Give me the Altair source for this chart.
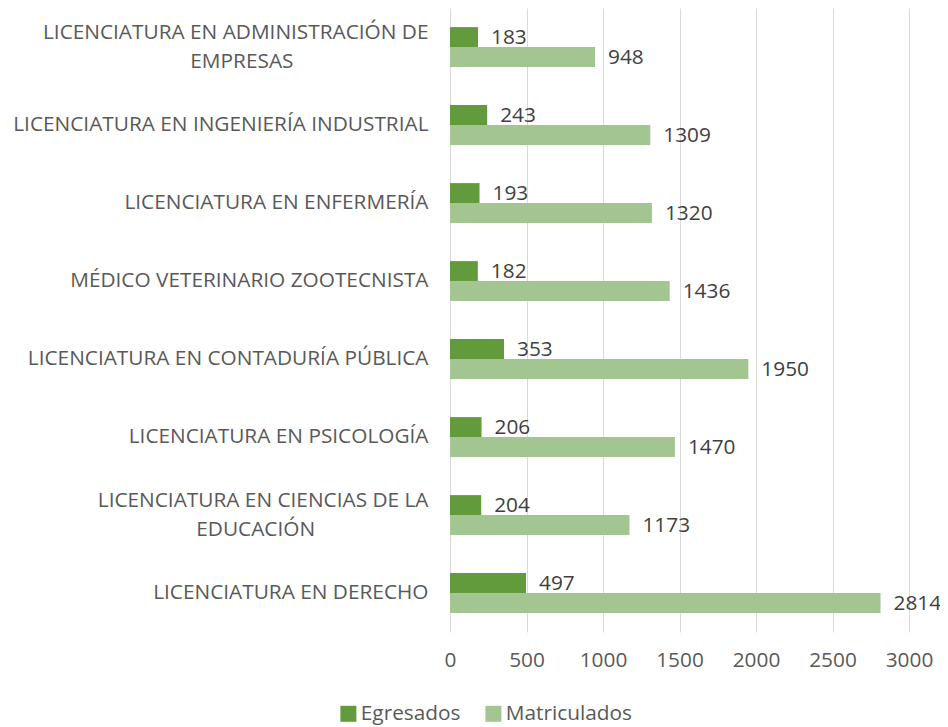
import altair as alt
import pandas as pd

categories = [
    "LICENCIATURA EN ADMINISTRACIÓN DE|EMPRESAS",
    "LICENCIATURA EN INGENIERÍA INDUSTRIAL",
    "LICENCIATURA EN ENFERMERÍA",
    "MÉDICO VETERINARIO ZOOTECNISTA",
    "LICENCIATURA EN CONTADURÍA PÚBLICA",
    "LICENCIATURA EN PSICOLOGÍA",
    "LICENCIATURA EN CIENCIAS DE LA|EDUCACIÓN",
    "LICENCIATURA EN DERECHO",
]
egresados = [183, 243, 193, 182, 353, 206, 204, 497]
matriculados = [948, 1309, 1320, 1436, 1950, 1470, 1173, 2814]
series = ["Egresados", "Matriculados"]
colors = ["#629B3C", "#A2C592"]
x_ticks = [0, 500, 1000, 1500, 2000, 2500, 3000]

rows = []
for c, e, m in zip(categories, egresados, matriculados):
    rows.append({"carrera": c, "serie": series[0], "valor": e})
    rows.append({"carrera": c, "serie": series[1], "valor": m})
df = pd.DataFrame(rows)

FONT = "Open Sans"
FS = 20.8
GREY = "#595959"

# wrapped labels: second line padded with no-break spaces (ended by a zero-width
# space so the padding is not trimmed) so that it sits roughly centred
label_expr = (
    "length(split(datum.label, '|')) > 1 ? "
    "[split(datum.label, '|')[0], "
    "pad(split(datum.label, '|')[1], length(split(datum.label, '|')[0]), '\u00a0') + '\u200b'] "
    ": datum.label"
)

y_enc = alt.Y(
    "carrera:N",
    sort=categories,
    title=None,
    scale=alt.Scale(paddingInner=0.49, paddingOuter=0.245),
    axis=alt.Axis(
        labelExpr=label_expr,
        labelFont=FONT,
        labelFontSize=FS,
        labelColor=GREY,
        labelPadding=22,
        labelLimit=700,
        labelLineHeight=29,
        labelOffset={
            "condition": {"test": "indexof(datum.value, '|') >= 0", "value": -14},
            "value": 0,
        },
        ticks=False,
        domain=False,
        grid=False,
    ),
)
yoff = alt.YOffset(
    "serie:N",
    sort=series,
    scale=alt.Scale(paddingInner=0, paddingOuter=0),
)
x_enc = alt.X(
    "valor:Q",
    title=None,
    scale=alt.Scale(domain=[0, 3000], nice=False),
    axis=alt.Axis(
        values=x_ticks,
        format="d",
        labelFlush=False,
        labelFont=FONT,
        labelFontSize=FS,
        labelColor=GREY,
        labelPadding=18,
        ticks=False,
        domain=False,
        grid=True,
        gridColor="#D9D9D9",
        gridWidth=1,
    ),
)

bars = alt.Chart(df).mark_bar(cornerRadius=0).encode(
    y=y_enc,
    yOffset=yoff,
    x=x_enc,
    color=alt.Color(
        "serie:N",
        sort=series,
        scale=alt.Scale(domain=series, range=colors),
        legend=alt.Legend(
            title=None,
            orient="none",
            legendX=-112,
            legendY=695,
            direction="horizontal",
            symbolType="square",
            symbolSize=256,
            symbolStrokeWidth=0,
            labelFont=FONT,
            labelFontSize=FS,
            labelColor=GREY,
            labelOffset=2,
            columnPadding=22,
            padding=0,
        ),
    ),
)

labels = alt.Chart(df).mark_text(
    align="left", baseline="middle", dx=13, dy=1,
    font=FONT, fontSize=FS, color="#404040",
).encode(
    y=alt.Y("carrera:N", sort=categories),
    yOffset=alt.YOffset("serie:N", sort=series),
    x=alt.X("valor:Q"),
    text=alt.Text("valor:Q"),
)

chart = (
    alt.layer(bars, labels)
    .properties(
        width=459,
        height=624,
        padding={"left": 442, "top": 0, "right": 31, "bottom": 95},
        autosize=alt.AutoSizeParams(type="none"),
    )
    .configure_view(stroke=None)
)

chart.save("out.html", embed_options={"renderer": "svg", "actions": False})
